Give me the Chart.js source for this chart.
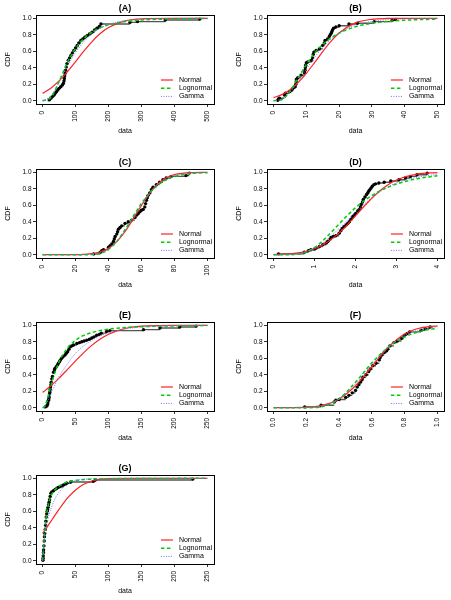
<!DOCTYPE html>
<html>
<head>
<meta charset="utf-8">
<script src="https://cdn.jsdelivr.net/npm/chart.js@4.4.1/dist/chart.umd.min.js"></script>
<style>
  html, body { margin: 0; padding: 0; background: #fff; }
  body { width: 451px; height: 600px; position: relative; overflow: hidden; }
  canvas { position: absolute; }
</style>
</head>
<body>
<script>
// ---- values ----
const yTicks = [0, 0.2, 0.4, 0.6, 0.8, 1.0];
const fitNames = ['Normal', 'Lognormal', 'Gamma'];

// (A)
const aTicks = [0, 100, 200, 300, 400, 500];
const aEcdfX = [20,25,30,35,38,42,46,50,55,60,63,65,66,67,68,70,72,74,78,82,86,90,95,100,105,110,116,122,128,135,142,150,158,165,172,177,265,288,372,477];
const aEcdfY = [0.01,0.03,0.05,0.07,0.09,0.11,0.13,0.15,0.17,0.19,0.21,0.24,0.27,0.30,0.33,0.37,0.41,0.45,0.49,0.52,0.55,0.58,0.61,0.64,0.67,0.70,0.73,0.75,0.77,0.79,0.81,0.83,0.86,0.88,0.90,0.93,0.95,0.96,0.98,0.99];
const aFitX = [0,25,50,75,100,125,150,175,200,250,300,400,500];
const aNormal = [0.089,0.152,0.240,0.350,0.474,0.601,0.718,0.815,0.888,0.968,0.994,1.0,1.0];
const aLognormal = [0,0.037,0.235,0.46,0.634,0.754,0.833,0.885,0.92,0.96,0.979,0.993,0.998];
const aGamma = [0,0.06,0.224,0.414,0.584,0.715,0.814,0.879,0.925,0.971,0.990,0.999,1.0];

// (B)
const bTicks = [0, 10, 20, 30, 40, 50];
const bEcdfX = [1.3,1.5,1.8,3.3,3.6,4.9,5.6,5.9,6.6,6.8,6.9,7.0,7.4,8.4,9.4,9.6,9.7,9.8,10.0,10.4,11.6,11.9,12.1,12.3,13.0,14.0,15.0,15.5,15.7,16.5,17.0,17.3,17.6,17.8,18.0,18.3,19.0,20.0,23.0,25.6,30.7,36.2,37.2];
const bEcdfY = [0.005,0.02,0.03,0.07,0.09,0.11,0.13,0.15,0.17,0.20,0.23,0.26,0.28,0.31,0.34,0.37,0.40,0.43,0.46,0.47,0.49,0.52,0.56,0.59,0.61,0.63,0.67,0.70,0.73,0.75,0.78,0.80,0.82,0.84,0.86,0.88,0.895,0.91,0.93,0.94,0.96,0.975,0.985];
const bFitX = [0,2.5,5,7.5,10,12.5,15,17.5,20,25,30,35,40,50];
const bNormal = [0.037,0.074,0.134,0.221,0.333,0.462,0.596,0.719,0.821,0.945,0.988,0.998,1.0,1.0];
const bLognormal = [0,0.011,0.113,0.278,0.44,0.578,0.683,0.762,0.82,0.897,0.938,0.962,0.977,0.99];
const bGamma = [0,0.019,0.102,0.234,0.384,0.525,0.647,0.745,0.82,0.915,0.962,0.984,0.993,0.999];

// (C)
const cTicks = [0, 20, 40, 60, 80, 100];
const cEcdfX = [31,35,36,37,40,41,42,43,43.5,44,45,45.5,46,47,48,50,52,54,56,57,58,59,60,61,62,62.5,63,63.5,64,65,66,67,69,71,73,75,78,87,89];
const cEcdfY = [0.01,0.03,0.05,0.06,0.09,0.11,0.13,0.16,0.19,0.22,0.25,0.28,0.31,0.33,0.35,0.38,0.40,0.42,0.45,0.48,0.50,0.52,0.54,0.55,0.58,0.62,0.66,0.69,0.72,0.75,0.79,0.82,0.85,0.88,0.91,0.93,0.95,0.96,0.99];
const cFitX = [0,10,20,25,30,35,40,45,50,55,60,65,70,75,80,90,100];
const cNormal = [0,0,0.001,0.004,0.012,0.034,0.078,0.159,0.28,0.434,0.599,0.748,0.861,0.933,0.972,0.997,1.0];
const cLognormal = [0,0,0,0.0001,0.002,0.016,0.063,0.16,0.303,0.467,0.623,0.751,0.845,0.908,0.947,0.985,0.996];
const cGamma = [0,0,0,0.001,0.005,0.022,0.07,0.16,0.29,0.45,0.61,0.74,0.85,0.92,0.96,0.99,0.998];

// (D)
const dTicks = [0, 1, 2, 3, 4];
const dEcdfX = [0.12,0.75,0.85,0.91,1.0,1.04,1.12,1.2,1.28,1.32,1.38,1.4,1.46,1.52,1.6,1.64,1.68,1.72,1.77,1.81,1.85,1.89,1.93,1.97,2.0,2.05,2.09,2.12,2.14,2.17,2.19,2.23,2.27,2.3,2.32,2.35,2.38,2.41,2.45,2.49,2.57,2.7,2.86,3.06,3.22,3.34,3.5,3.75];
const dEcdfY = [0.01,0.03,0.05,0.06,0.07,0.08,0.10,0.12,0.14,0.16,0.19,0.21,0.22,0.23,0.26,0.29,0.32,0.34,0.36,0.38,0.40,0.43,0.46,0.48,0.50,0.53,0.55,0.58,0.61,0.64,0.67,0.70,0.73,0.75,0.77,0.79,0.81,0.83,0.85,0.86,0.87,0.88,0.895,0.91,0.93,0.95,0.97,0.99];
const dFitX = [0,0.25,0.5,0.75,1,1.25,1.5,1.75,2,2.25,2.5,2.75,3,3.5,4];
const dNormal = [0.002,0.006,0.016,0.035,0.072,0.133,0.222,0.338,0.472,0.609,0.734,0.834,0.907,0.978,0.997];
const dLognormal = [0,0,0.002,0.022,0.086,0.192,0.32,0.451,0.569,0.668,0.748,0.811,0.858,0.922,0.957];
const dGamma = [0,0,0.005,0.03,0.08,0.16,0.27,0.39,0.52,0.63,0.73,0.81,0.87,0.94,0.975];

// (E)
const eTicks = [0, 50, 100, 150, 200, 250];
const eEcdfX = [4,6.5,7.5,8,9,9.5,10,10.6,11,11.5,12,12.6,13,14,15,16.6,18,19,21,22.7,24,25.7,27,29,31,34,36,38,40,42,44,47,52,56,59.5,63,67,71,74.6,78,82,86,89,97,102,153,178,208,233];
const eEcdfY = [0.01,0.02,0.04,0.06,0.09,0.11,0.13,0.17,0.19,0.22,0.25,0.28,0.31,0.35,0.38,0.43,0.46,0.48,0.50,0.52,0.54,0.56,0.58,0.60,0.62,0.64,0.66,0.68,0.71,0.74,0.75,0.76,0.78,0.79,0.80,0.81,0.82,0.83,0.845,0.86,0.88,0.89,0.905,0.925,0.935,0.947,0.967,0.98,0.99];
const eFitX = [0,2.5,5,10,15,25,37.5,50,62.5,75,87.5,100,125,150,200,250];
const eNormal = [0.186,0.20,0.216,0.248,0.283,0.359,0.462,0.568,0.669,0.759,0.833,0.891,0.961,0.989,1.0,1.0];
const eLognormal = [0,0.008,0.05,0.19,0.335,0.556,0.723,0.819,0.877,0.913,0.937,0.954,0.973,0.983,0.993,0.9965];
const eGamma = [0,0.015,0.04,0.12,0.21,0.38,0.53,0.66,0.75,0.82,0.87,0.91,0.955,0.978,0.995,0.999];

// (F)
const fTicks = [0, 0.2, 0.4, 0.6, 0.8, 1.0];
const fEcdfX = [0.19,0.29,0.37,0.38,0.40,0.44,0.46,0.48,0.50,0.51,0.52,0.53,0.54,0.545,0.565,0.58,0.59,0.605,0.625,0.645,0.65,0.66,0.675,0.69,0.695,0.71,0.735,0.755,0.78,0.795,0.80,0.815,0.83,0.90,0.925,0.955];
const fEcdfY = [0.01,0.03,0.07,0.09,0.10,0.125,0.15,0.18,0.21,0.25,0.28,0.31,0.34,0.37,0.40,0.44,0.47,0.51,0.54,0.58,0.61,0.64,0.67,0.69,0.71,0.75,0.79,0.81,0.84,0.87,0.88,0.90,0.92,0.94,0.96,0.98];
const fFitX = [0,0.1,0.2,0.3,0.4,0.5,0.6,0.7,0.8,0.9,1.0];
const fNormal = [0,0.001,0.006,0.03,0.106,0.266,0.5,0.734,0.894,0.97,0.994];
const fLognormal = [0,0,0,0.014,0.108,0.31,0.545,0.735,0.858,0.929,0.965];
const fGamma = [0,0,0.002,0.022,0.11,0.29,0.525,0.735,0.875,0.95,0.98];

// (G)
const gTicks = [0, 50, 100, 150, 200, 250];
const gEcdfX = [0.5,0.8,1,1.3,1.5,2,2.5,2.8,3.3,4,4.5,5,5.5,6.3,7,7.6,8.3,9,9.8,10.6,11.5,12.6,14,16.6,19,21.7,24,26.7,30,31.8,35,36.8,42.8,77,80,228];
const gEcdfY = [0.005,0.03,0.06,0.1,0.13,0.18,0.24,0.29,0.33,0.38,0.43,0.48,0.53,0.57,0.60,0.62,0.65,0.68,0.71,0.74,0.78,0.82,0.835,0.85,0.865,0.88,0.89,0.90,0.91,0.92,0.93,0.94,0.955,0.963,0.98,0.99];
const gFitX = [0,1,2.5,5,10,15,20,30,40,50,62.5,75,100,150,200,250];
const gNormal = [0.331,0.342,0.358,0.386,0.446,0.506,0.566,0.681,0.78,0.859,0.927,0.967,0.995,1,1,1];
const gLognormal = [0,0.1,0.27,0.5,0.72,0.82,0.87,0.93,0.96,0.975,0.985,0.99,0.995,0.998,0.999,1];
const gGamma = [0,0.12,0.24,0.38,0.56,0.68,0.77,0.88,0.94,0.97,0.988,0.995,1,1,1,1];

// ---- layout / styling ----
const FONT = '"Liberation Sans", Arial, Helvetica, sans-serif';
Chart.defaults.font.family = FONT;
Chart.defaults.color = '#000';

const fitStyles = [
  { color: '#ff2020', dash: [], width: 1.2 },
  { color: '#00cd00', dash: [3.5, 2.5], width: 1.5 },
  { color: '#7070ff', dash: [1, 1.5], width: 1 },
];

const panels = [
  { id: 'A', left: 0,   top: 0,   w: 225, yw: 36, pr: 11, xmin: -20,   xmax: 520,  ticks: aTicks, dec: 0, ex: aEcdfX, ey: aEcdfY, fx: aFitX, fits: [aNormal, aLognormal, aGamma] },
  { id: 'B', left: 225, top: 0,   w: 226, yw: 42, pr: 7,  xmin: -2,    xmax: 52,   ticks: bTicks, dec: 0, ex: bEcdfX, ey: bEcdfY, fx: bFitX, fits: [bNormal, bLognormal, bGamma] },
  { id: 'C', left: 0,   top: 154, w: 225, yw: 36, pr: 11, xmin: -4,    xmax: 104,  ticks: cTicks, dec: 0, ex: cEcdfX, ey: cEcdfY, fx: cFitX, fits: [cNormal, cLognormal, cGamma] },
  { id: 'D', left: 225, top: 154, w: 226, yw: 42, pr: 7,  xmin: -0.16, xmax: 4.16, ticks: dTicks, dec: 0, ex: dEcdfX, ey: dEcdfY, fx: dFitX, fits: [dNormal, dLognormal, dGamma] },
  { id: 'E', left: 0,   top: 307, w: 225, yw: 36, pr: 11, xmin: -10,   xmax: 260,  ticks: eTicks, dec: 0, ex: eEcdfX, ey: eEcdfY, fx: eFitX, fits: [eNormal, eLognormal, eGamma] },
  { id: 'F', left: 225, top: 307, w: 226, yw: 42, pr: 7,  xmin: -0.04, xmax: 1.04, ticks: fTicks, dec: 1, ex: fEcdfX, ey: fEcdfY, fx: fFitX, fits: [fNormal, fLognormal, fGamma] },
  { id: 'G', left: 0,   top: 460, w: 225, yw: 36, pr: 11, xmin: -10,   xmax: 260,  ticks: gTicks, dec: 0, ex: gEcdfX, ey: gEcdfY, fx: gFitX, fits: [gNormal, gLognormal, gGamma] },
];

// box, title, axis titles and legend drawn like base R graphics
const decor = {
  id: 'decor',
  afterDraw(chart, args, opts) {
    const { ctx, chartArea: a } = chart;
    ctx.save();
    ctx.strokeStyle = '#000';
    ctx.lineWidth = 1;
    ctx.setLineDash([]);
    ctx.strokeRect(Math.round(a.left) + 0.5, Math.round(a.top) + 0.5,
      Math.round(a.right - a.left), Math.round(a.bottom - a.top));

    ctx.fillStyle = '#000';
    ctx.textAlign = 'center';
    ctx.textBaseline = 'middle';
    ctx.font = 'bold 9px ' + FONT;
    ctx.fillText('(' + opts.label + ')', (a.left + a.right) / 2, a.top - 6.5);

    ctx.font = '7px ' + FONT;
    ctx.fillText('data', (a.left + a.right) / 2, a.bottom + 27);
    ctx.save();
    ctx.translate(a.left - 27.5, (a.top + a.bottom) / 2);
    ctx.rotate(-Math.PI / 2);
    ctx.fillText('CDF', 0, 0);
    ctx.restore();

    // legend, bottom right, no frame
    const tx = a.right - 2 - ctx.measureText('Lognormal').width;
    fitNames.forEach((name, i) => {
      const y = a.bottom - 24 + i * 8.2;
      const st = fitStyles[i];
      ctx.beginPath();
      ctx.strokeStyle = st.color;
      ctx.lineWidth = st.width;
      ctx.setLineDash(st.dash);
      ctx.moveTo(tx - 18, y);
      ctx.lineTo(tx - 6, y);
      ctx.stroke();
      ctx.setLineDash([]);
      ctx.textAlign = 'left';
      ctx.fillText(name, tx, y);
    });
    ctx.restore();
  }
};

panels.forEach(p => {
  const cv = document.createElement('canvas');
  cv.width = p.w;
  cv.height = 150;
  cv.style.left = p.left + 'px';
  cv.style.top = p.top + 'px';
  cv.style.width = p.w + 'px';
  cv.style.height = '150px';
  document.body.appendChild(cv);

  const fitSets = p.fits.map((ys, k) => ({
    label: fitNames[k],
    data: p.fx.map((x, i) => ({ x: x, y: ys[i] })),
    borderColor: fitStyles[k].color,
    borderWidth: fitStyles[k].width,
    borderDash: fitStyles[k].dash,
    pointRadius: 0,
    cubicInterpolationMode: 'monotone',
    fill: false,
  })).reverse();

  // horizontal pieces of the empirical step function
  const steps = [];
  for (let i = 0; i < p.ex.length - 1; i++) {
    steps.push({ x: p.ex[i], y: p.ey[i] }, { x: p.ex[i + 1], y: p.ey[i] }, { x: p.ex[i + 1], y: null });
  }

  new Chart(cv, {
    type: 'line',
    data: {
      datasets: [
        ...fitSets,
        {
          label: 'ecdf points',
          data: p.ex.map((x, i) => ({ x: x, y: p.ey[i] })),
          showLine: false,
          pointRadius: 1.7,
          pointBackgroundColor: '#000',
          pointBorderColor: '#000',
          pointBorderWidth: 0,
        },
        {
          label: 'ecdf steps',
          data: steps,
          borderColor: '#555',
          borderWidth: 1.4,
          pointRadius: 0,
          spanGaps: false,
        },
      ]
    },
    options: {
      responsive: false,
      animation: false,
      devicePixelRatio: 1,
      layout: { padding: { top: 15, right: p.pr, bottom: 0, left: 0 } },
      plugins: {
        legend: { display: false },
        tooltip: { enabled: false },
        decor: { label: p.id },
      },
      scales: {
        x: {
          type: 'linear',
          min: p.xmin,
          max: p.xmax,
          afterBuildTicks: s => { s.ticks = p.ticks.map(v => ({ value: v })); },
          afterFit: s => { s.height = 46; },
          ticks: {
            autoSkip: false,
            minRotation: 90,
            maxRotation: 90,
            padding: 4,
            color: '#000',
            font: { size: 6.5 },
            callback: v => v.toFixed(p.dec),
          },
          grid: { drawOnChartArea: false, drawTicks: true, tickLength: 3, color: '#000', lineWidth: 0.8 },
          border: { display: false },
        },
        y: {
          type: 'linear',
          min: -0.04,
          max: 1.04,
          afterBuildTicks: s => { s.ticks = yTicks.map(v => ({ value: v })); },
          afterFit: s => { s.width = p.yw; },
          ticks: {
            padding: 1.5,
            color: '#000',
            font: { size: 6.5 },
            callback: v => v.toFixed(1),
          },
          grid: { drawOnChartArea: false, drawTicks: true, tickLength: 3, color: '#000', lineWidth: 0.8 },
          border: { display: false },
        },
      },
    },
    plugins: [decor],
  });
});
</script>
</body>
</html>
